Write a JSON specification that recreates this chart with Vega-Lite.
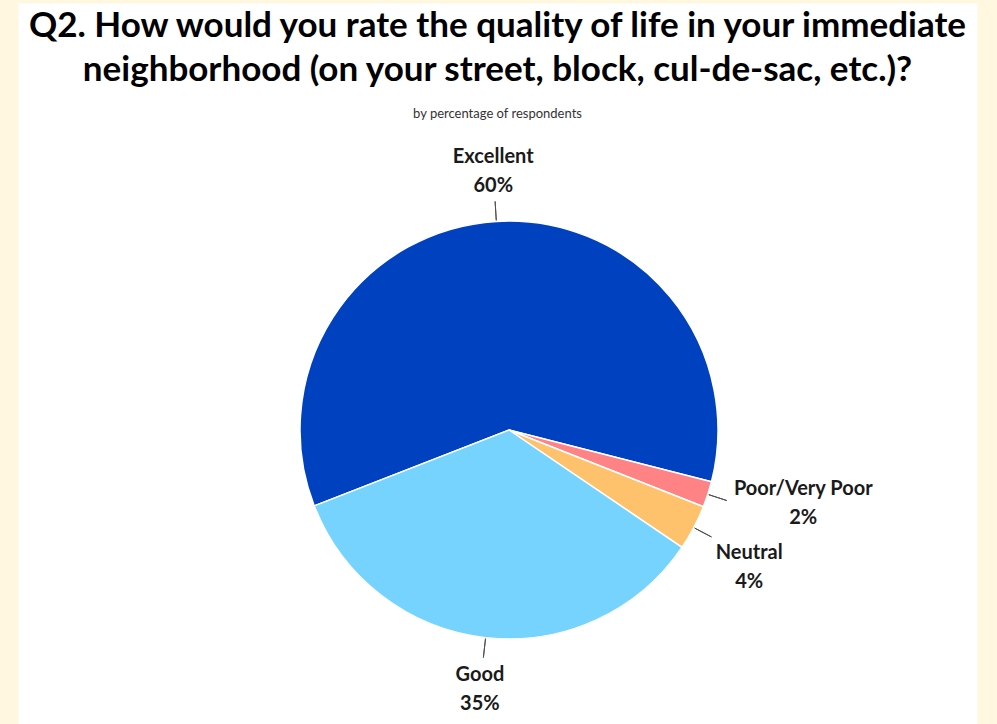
{
  "$schema": "https://vega.github.io/schema/vega-lite/v6.json",
  "width": 959,
  "height": 721,
  "autosize": {"type": "none"},
  "padding": {"left": 18, "top": 3, "right": 20, "bottom": 0},
  "background": "#FFF7DF",
  "view": {"fill": "#FFFFFF", "stroke": "transparent"},
  "config": {"font": "Lato"},
  "title": {
    "text": ["Q2. How would you rate the quality of life in your immediate", "neighborhood (on your street, block, cul-de-sac, etc.)?"],
    "subtitle": "by percentage of respondents",
    "anchor": "middle",
    "font": "Lato",
    "fontSize": 35,
    "fontWeight": "bold",
    "color": "#000000",
    "lineHeight": 44,
    "subtitleFont": "Lato",
    "subtitleFontSize": 13,
    "subtitleColor": "#333333",
    "subtitlePadding": 20,
    "offset": -118
  },
  "data": {
    "values": [
      {"category": "Excellent", "value": 59.9, "pct": "60%", "order": 1},
      {"category": "Poor/Very Poor", "value": 2.0, "pct": "2%", "order": 2},
      {"category": "Neutral", "value": 3.5, "pct": "4%", "order": 3},
      {"category": "Good", "value": 34.6, "pct": "35%", "order": 4}
    ]
  },
  "transform": [
    {"window": [{"op": "sum", "field": "value", "as": "cum"}], "sort": [{"field": "order"}], "frame": [null, 0]},
    {"calculate": "datum.cum - datum.value / 2", "as": "mid"},
    {"calculate": "datum.category + '\\n' + datum.pct", "as": "label"}
  ],
  "layer": [
    {
      "mark": {"type": "arc", "radius": 209, "stroke": "#FFFFFF", "strokeWidth": 1.5, "x": {"expr": "width/2+11.5"}, "y": {"expr": "height/2+66.5"}},
      "encoding": {
        "theta": {"field": "value", "type": "quantitative", "stack": true, "scale": {"domain": [0, 100], "range": [4.3407, 10.6239]}},
        "color": {"field": "category", "type": "nominal", "legend": null,
          "scale": {"domain": ["Excellent", "Poor/Very Poor", "Neutral", "Good"], "range": ["#0041BF", "#FF8284", "#FFC26C", "#75D3FE"]}},
        "order": {"field": "order", "type": "quantitative"}
      }
    },
    {
      "mark": {"type": "arc", "radius": 210, "radius2": 229, "filled": false, "stroke": "#505050", "strokeWidth": 1, "x": {"expr": "width/2+11.5"}, "y": {"expr": "height/2+66.5"}},
      "encoding": {
        "theta": {"field": "mid", "type": "quantitative", "stack": null},
        "theta2": {"field": "mid"}
      }
    },
    {
      "transform": [{"filter": "datum.category === 'Excellent' || datum.category === 'Good'"}],
      "mark": {"type": "text", "radius": 260, "dy": -13, "fontSize": 20, "fontWeight": "bold", "lineBreak": "\n", "lineHeight": 29, "align": "center", "baseline": "middle", "color": "#1A1A1A", "x": {"expr": "width/2+11.5"}, "y": {"expr": "height/2+66.5"}},
      "encoding": {
        "theta": {"field": "mid", "type": "quantitative", "stack": null},
        "text": {"field": "label"}
      }
    },
    {
      "transform": [{"filter": "datum.category === 'Poor/Very Poor'"}],
      "mark": {"type": "text", "radius": 303, "dx": 6, "dy": -34, "fontSize": 20, "fontWeight": "bold", "lineBreak": "\n", "lineHeight": 29, "align": "center", "baseline": "middle", "color": "#1A1A1A", "x": {"expr": "width/2+11.5"}, "y": {"expr": "height/2+66.5"}},
      "encoding": {
        "theta": {"field": "mid", "type": "quantitative", "stack": null},
        "text": {"field": "label"}
      }
    },
    {
      "transform": [{"filter": "datum.category === 'Neutral'"}],
      "mark": {"type": "text", "radius": 275, "dx": -3, "dy": -5, "fontSize": 20, "fontWeight": "bold", "lineBreak": "\n", "lineHeight": 29, "align": "center", "baseline": "middle", "color": "#1A1A1A", "x": {"expr": "width/2+11.5"}, "y": {"expr": "height/2+66.5"}},
      "encoding": {
        "theta": {"field": "mid", "type": "quantitative", "stack": null},
        "text": {"field": "label"}
      }
    }
  ]
}
